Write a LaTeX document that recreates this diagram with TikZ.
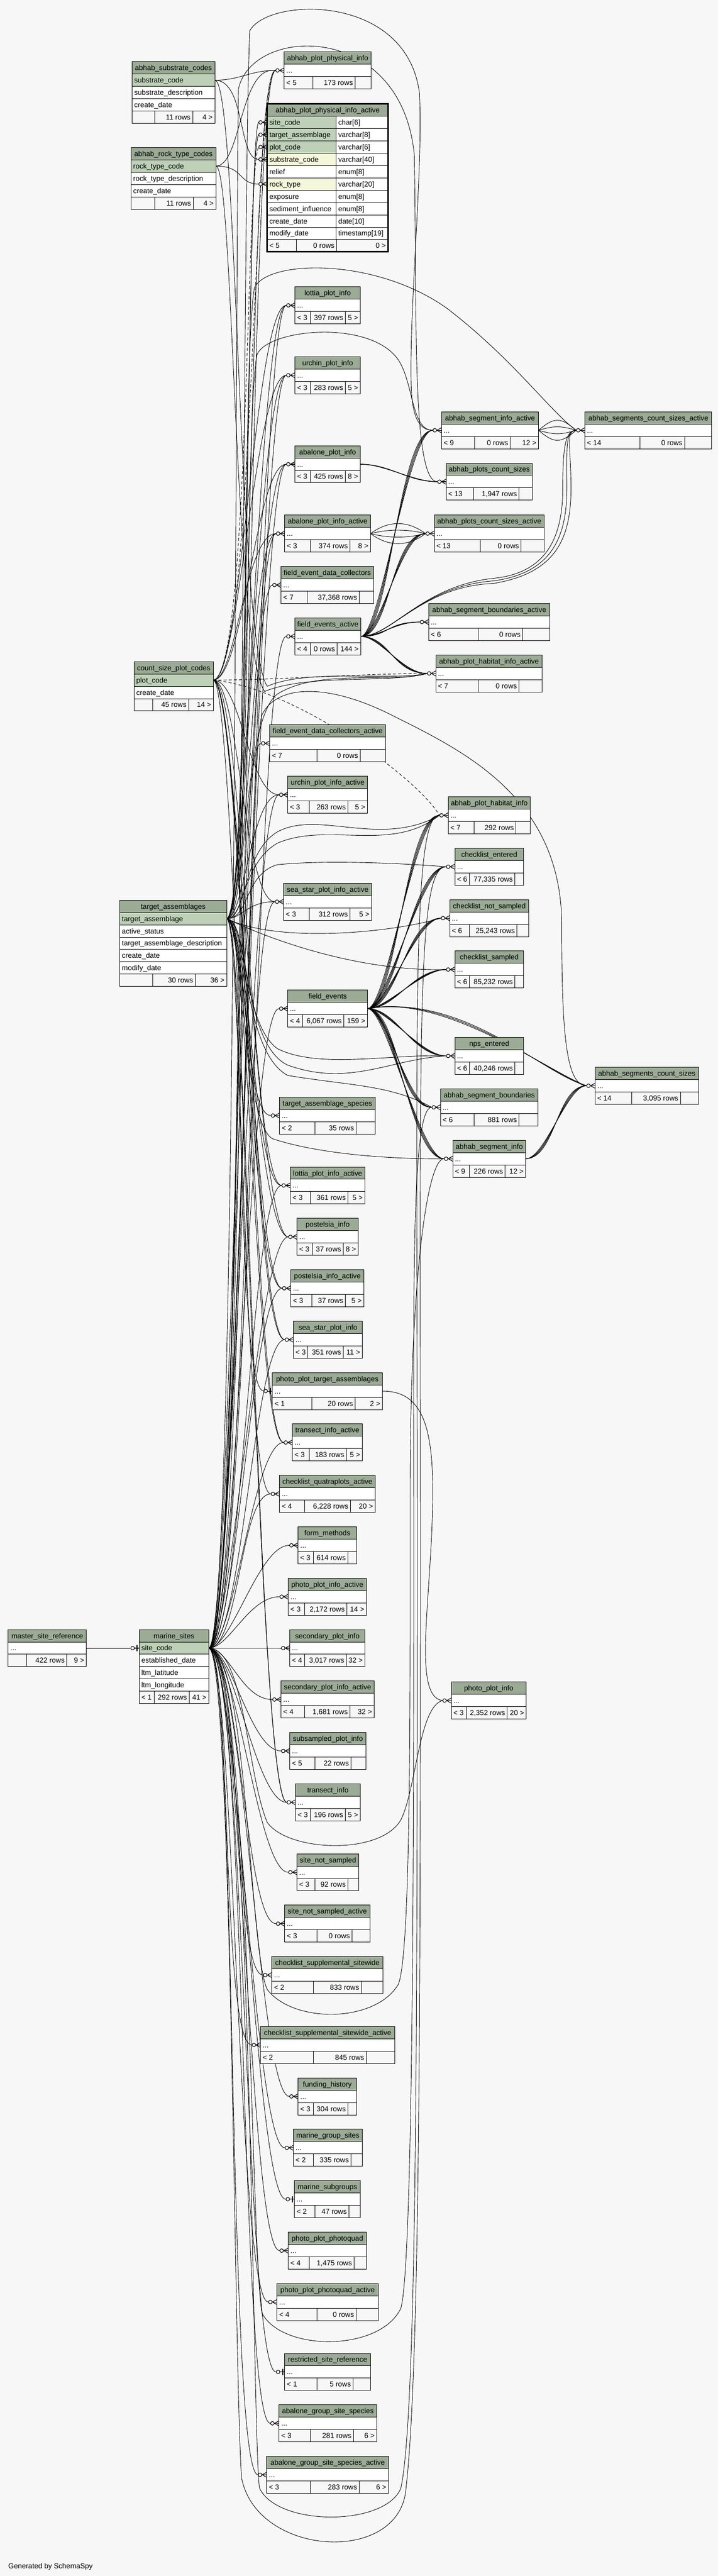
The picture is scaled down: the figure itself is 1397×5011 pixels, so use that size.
\documentclass[tikz,border=0pt]{standalone}
\usepackage{fontspec}
\setmainfont{Liberation Sans}
\usetikzlibrary{calc}
\definecolor{bgc}{HTML}{F7F7F7}
\definecolor{hdc}{HTML}{9BAB96}
\definecolor{pkc}{HTML}{BED1B8}
\definecolor{fkc}{HTML}{F4F7DA}
\pgfdeclarelayer{back}\pgfdeclarelayer{edges}\pgfsetlayers{back,edges,main}
\newcommand{\stb}[5]{%
  \xdef\tid{#1}\xdef\txl{#3}\xdef\txr{#4}\xdef\tyt{#5}%
  \filldraw[hdr] (#3,#5) rectangle (#4,#5+24);
  \node[tt,anchor=base] (#1) at ({(#3+#4)/2},#5+17) {#2};
  \filldraw[cell] (#3,#5+24) rectangle (#4,#5+48);
  \node[tt,anchor=base west] (#1-d) at (#3+4,#5+41) {...};
  \coordinate (#1-in) at (#3,#5+36);
  \coordinate (#1-e) at (#3-17,#5+36);
  \coordinate (#1-o) at (#4,#5+36);
}
\newcommand{\thd}[5]{%
  \xdef\tid{#1}\xdef\txl{#3}\xdef\txr{#4}\xdef\tyt{#5}%
  \filldraw[hdr] (#3,#5) rectangle (#4,#5+24);
  \node[tt,anchor=base] (#1) at ({(#3+#4)/2},#5+17) {#2};
}
\newcommand{\trw}[4]{%
  \filldraw[#4] (\txl,#2) rectangle (\txr,#2+24);
  \node[tt,anchor=base west] (\tid-#1) at (\txl+4,#2+17) {#3};
}
\newcommand{\trww}[5]{%
  \filldraw[#5] (\txl,#2) rectangle (654,#2+24);
  \filldraw[cell] (654,#2) rectangle (\txr,#2+24);
  \node[tt,anchor=base west] (\tid-#1) at (\txl+4,#2+17) {#3};
  \node[tt,anchor=base west] (\tid-#1t) at (658,#2+17) {#4};
  \coordinate (\tid-#1-in) at (\txl,#2+12);
  \coordinate (\tid-#1-e) at (\txl-17,#2+12);
}
\newcommand{\ftr}[6]{%
  \filldraw[ftc] (\txl,#1) rectangle (#2,#1+24);
  \filldraw[ftc] (#2,#1) rectangle (#3,#1+24);
  \filldraw[ftc] (#3,#1) rectangle (\txr,#1+24);
  \def\tmpa{#4}\ifx\tmpa\empty\else\node[tt,anchor=base west] (\tid-fl) at (\txl+4,#1+17) {#4};\fi
  \def\tmpa{#5}\ifx\tmpa\empty\else\node[tt,anchor=base east] (\tid-fm) at (#3-4,#1+17) {#5};\fi
  \def\tmpa{#6}\ifx\tmpa\empty\else\node[tt,anchor=base east] (\tid-fr) at (\txr-4,#1+17) {#6};\fi
}
\newcommand{\sft}[5]{\ftr{\tyt+48}{#1}{#2}{#3}{#4}{#5}}
\newcommand{\crw}[1]{%
  \draw[mk,fill=bgc] ($(#1)+(-13,0)$) circle[radius=3.5pt];
  \draw[mk] ($(#1)+(-9,0)$) -- ($(#1)+(0,-5)$);
  \draw[mk] ($(#1)+(-9,0)$) -- (#1);
  \draw[mk] ($(#1)+(-9,0)$) -- ($(#1)+(0,5)$);
}
\newcommand{\zoo}[1]{%
  \draw[mk,fill=bgc] ($(#1)+(-13,0)$) circle[radius=3.5pt];
  \draw[mk] ($(#1)+(-9.5,0)$) -- (#1);
  \draw[mk,line width=2pt] ($(#1)+(-4,-6)$) -- ($(#1)+(-4,6)$);
}
\newcommand{\edm}[5]{\foreach \k in {1,...,#1}{\draw[edge] (#2) .. controls +({#4+7*\k},0) and +({-#5-7*\k},0) .. (#3);}}
\begin{document}
\begin{tikzpicture}[x=1pt,y=-1pt,
  tt/.style={font=\fontsize{14}{16}\selectfont, inner sep=0pt},
  hdr/.style={fill=hdc, draw=black, line width=1pt},
  cell/.style={fill=white, draw=black, line width=1pt},
  ftc/.style={fill=bgc, draw=black, line width=1pt},
  pkcell/.style={fill=pkc, draw=black, line width=1pt},
  fkcell/.style={fill=fkc, draw=black, line width=1pt},
  edge/.style={draw=black, line width=0.9pt},
  dedge/.style={edge, dash pattern=on 6pt off 4pt},
  mk/.style={draw=black, line width=1.1pt}]
\useasboundingbox (0,0) rectangle (1397,5011);
\begin{pgfonlayer}{back}\fill[bgc] (0,0) rectangle (1397,5011);\end{pgfonlayer}

% ---------- multi-row tables ----------
\thd{sbc}{abhab\_substrate\_codes}{257}{418}{120}
\trw{r1}{144}{substrate\_code}{pkcell}
\trw{r2}{168}{substrate\_description}{cell}
\trw{r3}{192}{create\_date}{cell}
\ftr{216}{301}{375}{}{11 rows}{4 >}
\coordinate (sbc-o) at (418,156);

\thd{rtc}{abhab\_rock\_type\_codes}{255}{420}{287}
\trw{r1}{311}{rock\_type\_code}{pkcell}
\trw{r2}{335}{rock\_type\_description}{cell}
\trw{r3}{359}{create\_date}{cell}
\ftr{383}{301}{376}{}{11 rows}{4 >}
\coordinate (rtc-o) at (420,323);

\thd{appia}{abhab\_plot\_physical\_info\_active}{520}{755}{202}
\trww{site}{226}{site\_code}{char[6]}{pkcell}
\trww{ta}{250}{target\_assemblage}{varchar[8]}{pkcell}
\trww{plot}{274}{plot\_code}{varchar[6]}{pkcell}
\trww{sub}{298}{substrate\_code}{varchar[40]}{fkcell}
\trww{rel}{322}{relief}{enum[8]}{cell}
\trww{rock}{346}{rock\_type}{varchar[20]}{fkcell}
\trww{exp}{370}{exposure}{enum[8]}{cell}
\trww{sed}{394}{sediment\_influence}{enum[8]}{cell}
\trww{cd}{418}{create\_date}{date[10]}{cell}
\trww{md}{442}{modify\_date}{timestamp[19]}{cell}
\ftr{466}{577}{655}{< 5}{0 rows}{0 >}
\draw[line width=3pt] (520,202) rectangle (755,490);

\thd{cspc}{count\_size\_plot\_codes}{261}{415}{1287}
\trw{r1}{1311}{plot\_code}{pkcell}
\trw{r2}{1335}{create\_date}{cell}
\ftr{1359}{297}{367}{}{45 rows}{14 >}
\coordinate (cspc-o) at (415,1323);

\thd{ta}{target\_assemblages}{233}{441}{1751}
\trw{r1}{1775}{target\_assemblage}{pkcell}
\trw{r2}{1799}{active\_status}{cell}
\trw{r3}{1823}{target\_assemblage\_description}{cell}
\trw{r4}{1847}{create\_date}{cell}
\trw{r5}{1871}{modify\_date}{cell}
\ftr{1895}{297}{380}{}{30 rows}{36 >}
\coordinate (ta-o) at (441,1787);

\thd{ms}{marine\_sites}{271}{406}{3170}
\trw{r1}{3194}{site\_code}{pkcell}
\trw{r2}{3218}{established\_date}{cell}
\trw{r3}{3242}{ltm\_latitude}{cell}
\trw{r4}{3266}{ltm\_longitude}{cell}
\ftr{3290}{300}{368}{< 1}{292 rows}{41 >}
\coordinate (ms-o) at (406,3206);
\coordinate (ms-in) at (271,3206);
\coordinate (ms-e) at (254,3206);

% ---------- simple tables ----------
\stb{msr}{master\_site\_reference}{16}{168}{3170}\sft{52}{130}{}{422 rows}{9 >}
\stb{appi}{abhab\_plot\_physical\_info}{553}{722}{101}\sft{609}{691}{< 5}{173 rows}{}
\stb{lottia}{lottia\_plot\_info}{574}{701}{558}\sft{604}{672}{< 3}{397 rows}{5 >}
\stb{urchin}{urchin\_plot\_info}{574}{701}{694}\sft{604}{672}{< 3}{283 rows}{5 >}
\stb{abalone}{abalone\_plot\_info}{574}{701}{867}\sft{604}{672}{< 3}{425 rows}{8 >}
\stb{sia}{abhab\_segment\_info\_active}{859}{1048}{801}\sft{924}{993}{< 9}{0 rows}{12 >}
\stb{segcsa}{abhab\_segments\_count\_sizes\_active}{1138}{1385}{801}\sft{1245}{1332}{< 14}{0 rows}{}
\stb{pcs}{abhab\_plots\_count\_sizes}{868}{1036}{901}\sft{922}{1010}{< 13}{1,947 rows}{}
\stb{abpia}{abalone\_plot\_info\_active}{554}{721}{1002}\sft{604}{681}{< 3}{374 rows}{8 >}
\stb{pcsa}{abhab\_plots\_count\_sizes\_active}{845}{1059}{1002}\sft{935}{1014}{< 13}{0 rows}{}
\stb{fedc}{field\_event\_data\_collectors}{547}{727}{1102}\sft{598}{699}{< 7}{37,368 rows}{}
\stb{sba}{abhab\_segment\_boundaries\_active}{834}{1070}{1174}\sft{931}{1017}{< 6}{0 rows}{}
\stb{fea}{field\_events\_active}{574}{702}{1202}\sft{604}{656}{< 4}{0 rows}{144 >}
\stb{aphia}{abhab\_plot\_habitat\_info\_active}{848}{1055}{1274}\sft{931}{1010}{< 7}{0 rows}{}
\stb{fedca}{field\_event\_data\_collectors\_active}{525}{750}{1410}\sft{617}{701}{< 7}{0 rows}{}
\stb{urchina}{urchin\_plot\_info\_active}{560}{715}{1510}\sft{602}{677}{< 3}{263 rows}{5 >}
\stb{aphi}{abhab\_plot\_habitat\_info}{872}{1032}{1550}\sft{923}{1004}{< 7}{292 rows}{}
\stb{ce}{checklist\_entered}{885}{1019}{1650}\sft{913}{1002}{< 6}{77,335 rows}{}
\stb{ssa}{sea\_star\_plot\_info\_active}{552}{723}{1718}\sft{602}{681}{< 3}{312 rows}{5 >}
\stb{cns}{checklist\_not\_sampled}{875}{1029}{1750}\sft{913}{1006}{< 6}{25,243 rows}{}
\stb{cs}{checklist\_sampled}{885}{1019}{1850}\sft{913}{1002}{< 6}{85,232 rows}{}
\stb{fe}{field\_events}{560}{715}{1926}\sft{589}{669}{< 4}{6,067 rows}{159 >}
\stb{nps}{nps\_entered}{885}{1019}{2018}\sft{913}{1002}{< 6}{40,246 rows}{}
\stb{segcs}{abhab\_segments\_count\_sizes}{1158}{1359}{2076}\sft{1229}{1324}{< 14}{3,095 rows}{}
\stb{sb}{abhab\_segment\_boundaries}{857}{1047}{2118}\sft{923}{1010}{< 6}{881 rows}{}
\stb{tas}{target\_assemblage\_species}{544}{730}{2134}\sft{613}{693}{< 2}{35 rows}{}
\stb{si}{abhab\_segment\_info}{881}{1023}{2218}\sft{913}{983}{< 9}{226 rows}{12 >}
\stb{lottiaa}{lottia\_plot\_info\_active}{565}{710}{2270}\sft{604}{677}{< 3}{361 rows}{5 >}
\stb{pos}{postelsia\_info}{578}{697}{2370}\sft{608}{668}{< 3}{37 rows}{8 >}
\stb{posa}{postelsia\_info\_active}{566}{708}{2470}\sft{607}{672}{< 3}{37 rows}{5 >}
\stb{ss}{sea\_star\_plot\_info}{571}{705}{2570}\sft{599}{668}{< 3}{351 rows}{11 >}
\stb{ppta}{photo\_plot\_target\_assemblages}{530}{744}{2670}\sft{607}{691}{< 1}{20 rows}{2 >}
\stb{tia}{transect\_info\_active}{569}{705}{2770}\sft{602}{674}{< 3}{183 rows}{5 >}
\stb{cqa}{checklist\_quatraplots\_active}{544}{730}{2870}\sft{593}{682}{< 4}{6,228 rows}{20 >}
\stb{fm}{form\_methods}{580}{694}{2970}\sft{610}{677}{< 3}{614 rows}{}
\stb{ppiact}{photo\_plot\_info\_active}{561}{713}{3070}\sft{593}{675}{< 3}{2,172 rows}{14 >}
\stb{spi}{secondary\_plot\_info}{564}{710}{3170}\sft{593}{674}{< 4}{3,017 rows}{32 >}
\stb{spia}{secondary\_plot\_info\_active}{547}{728}{3270}\sft{593}{681}{< 4}{1,681 rows}{32 >}
\stb{ppi}{photo\_plot\_info}{878}{1024}{3272}\sft{907}{987}{< 3}{2,352 rows}{20 >}
\stb{ssp}{subsampled\_plot\_info}{564}{712}{3370}\sft{613}{683}{< 5}{22 rows}{}
\stb{ti}{transect\_info}{575}{701}{3470}\sft{604}{672}{< 3}{196 rows}{5 >}
\stb{sns}{site\_not\_sampled}{578}{698}{3606}\sft{613}{677}{< 3}{92 rows}{}
\stb{snsa}{site\_not\_sampled\_active}{554}{720}{3706}\sft{617}{685}{< 3}{0 rows}{}
\stb{css}{checklist\_supplemental\_sitewide}{529}{745}{3806}\sft{610}{703}{< 2}{833 rows}{}
\stb{cssa}{checklist\_supplemental\_sitewide\_active}{507}{768}{3942}\sft{610}{713}{< 2}{845 rows}{}
\stb{fh}{funding\_history}{580}{694}{4042}\sft{610}{677}{< 3}{304 rows}{}
\stb{mgs}{marine\_group\_sites}{571}{705}{4142}\sft{610}{683}{< 2}{335 rows}{}
\stb{msub}{marine\_subgroups}{573}{701}{4242}\sft{613}{679}{< 2}{47 rows}{}
\stb{ppq}{photo\_plot\_photoquad}{561}{713}{4342}\sft{602}{689}{< 4}{1,475 rows}{}
\stb{ppqa}{photo\_plot\_photoquad\_active}{539}{736}{4442}\sft{617}{693}{< 4}{0 rows}{}
\stb{rsr}{restricted\_site\_reference}{554}{721}{4578}\sft{617}{687}{< 1}{5 rows}{}
\stb{agss}{abalone\_group\_site\_species}{543}{733}{4678}\sft{604}{688}{< 3}{281 rows}{6 >}
\stb{agssa}{abalone\_group\_site\_species\_active}{519}{756}{4778}\sft{604}{699}{< 3}{283 rows}{6 >}

% ---------- markers ----------
\foreach \t in {appi,lottia,urchin,abalone,sia,segcsa,pcs,abpia,pcsa,fedc,sba,fea,aphia,fedca,urchina,aphi,ce,ssa,cns,cs,fe,nps,segcs,sb,tas,si,lottiaa,pos,posa,ss,tia,cqa,fm,ppiact,spi,spia,ppi,ssp,ti,sns,snsa,css,cssa,fh,mgs,ppq,ppqa,agss,agssa}{\crw{\t-in}}
\foreach \t in {appia-site-in,appia-ta-in,appia-plot-in,appia-sub-in,appia-rock-in}{\crw{\t}}
\foreach \t in {ms-in,msub-in,rsr-in,ppta-in}{\zoo{\t}}

% ---------- connectors ----------
\begin{pgfonlayer}{edges}
% marine_sites bundle
\foreach \c/\v in {appi-e/75,lottia-e/65,urchin-e/60,abalone-e/55,abpia-e/50,fedc-e/45,fea-e/80,fedca-e/60,urchina-e/50,ssa-e/70,fe-e/55,lottiaa-e/65,pos-e/45,posa-e/55,ss-e/65,tia-e/50,cqa-e/60,fm-e/45,ppiact-e/40,spi-e/40,spia-e/40,ssp-e/45,ti-e/50,sns-e/55,snsa-e/60,css-e/65,cssa-e/45,fh-e/70,mgs-e/55,msub-e/60,ppq-e/65,ppqa-e/50,rsr-e/70,agss-e/75,agssa-e/55}
  {\draw[edge] (ms-o) .. controls +(\v,0) and +(-60,0) .. (\c);}
\draw[edge] (ms-o) .. controls +(70,0) and +(-30,40) .. (appia-site-e);
% target_assemblages bundle
\foreach \c/\v in {appi-e/50,lottia-e/40,urchin-e/35,abalone-e/45,abpia-e/40,urchina-e/35,ssa-e/30,tas-e/40,lottiaa-e/45,pos-e/35,posa-e/40,ss-e/50,ppta-e/35,tia-e/45,ti-e/40,cqa-e/30}
  {\draw[edge] (ta-o) .. controls +(\v,0) and +(-55,0) .. (\c);}
\draw[edge] (ta-o) .. controls +(45,0) and +(-25,50) .. (appia-ta-e);
% count_size_plot_codes
\foreach \c/\v in {lottia-e/55,urchin-e/50,abalone-e/60,abpia-e/45,urchina-e/55,ssa-e/50,lottiaa-e/60,pos-e/45,posa-e/50,ss-e/55,tia-e/60,ti-e/50}
  {\draw[edge] (cspc-o) .. controls +(\v,0) and +(-60,0) .. (\c);}
\draw[dedge] (cspc-o) .. controls +(70,-10) and +(-25,60) .. (appia-plot-e);
\draw[dedge] (cspc-o) .. controls +(80,-10) and +(-45,25) .. (appi-e);
\draw[dedge] (cspc-o) .. controls +(120,0) and +(-120,0) .. (aphia-e);
\draw[dedge] (cspc-o) .. controls +(160,15) and +(-40,-70) .. (aphi-e);
% code tables
\draw[edge] (sbc-o) .. controls +(50,0) and +(-50,0) .. (appi-e);
\draw[edge] (sbc-o) .. controls +(60,0) and +(-40,0) .. (appia-sub-e);
\draw[edge] (rtc-o) .. controls +(50,0) and +(-70,-10) .. (appi-e);
\draw[edge] (rtc-o) .. controls +(55,0) and +(-40,0) .. (appia-rock-e);
\draw[edge] (sbc-o) .. controls +(45,0) and (462,1250) .. (520,1335) .. controls (600,1300) and (760,1325) .. (aphia-e);
\draw[edge] (rtc-o) .. controls +(35,0) and (455,1260) .. (515,1345) .. controls (600,1310) and (760,1330) .. (aphia-e);
% target_assemblages to right column
\draw[edge] (ta-o) .. controls +(45,0) and (475,1700) .. (540,1682) .. controls (640,1672) and (790,1680) .. (ce-e);
\draw[edge] (ta-o) .. controls (540,1835) and (760,1815) .. (cns-e);
\draw[edge] (ta-o) .. controls (530,1830) and (700,1890) .. (cs-e);
\draw[edge] (ta-o) .. controls +(40,0) and (470,1660) .. (540,1618) .. controls (620,1575) and (740,1650) .. (aphi-e);
\draw[edge] (ta-o) .. controls +(35,0) and (470,1680) .. (540,1640) .. controls (640,1598) and (760,1660) .. (aphi-e);
\draw[edge] (ta-o) .. controls +(40,0) and (470,1990) .. (540,2040) .. controls (620,2080) and (760,2050) .. (nps-e);
\draw[edge] (ta-o) .. controls +(45,0) and (470,2030) .. (560,2072) .. controls (680,2115) and (760,2060) .. (nps-e);
\draw[edge] (ta-o) .. controls +(40,0) and (470,2045) .. (560,2092) .. controls (680,2112) and (760,2110) .. (sb-e);
\draw[edge] (ta-o) .. controls +(35,0) and (470,2180) .. (530,2215) .. controls (620,2245) and (760,2255) .. (si-e);
\draw[edge] (ta-o) .. controls +(40,0) and (470,1400) .. (540,1350) .. controls (620,1300) and (760,1330) .. (aphia-e);
\draw[edge] (ta-o) .. controls +(50,0) and (475,820) .. (500,690) .. controls (520,640) and (720,620) .. (775,700) .. controls (805,745) and (800,837) .. (sia-e);
\draw[edge] (ta-o) .. controls +(45,0) and (470,700) .. (495,560) .. controls (520,505) and (730,500) .. (870,600) .. controls (1000,700) and (1070,800) .. (segcsa-e);
% marine_sites long routes
\draw[edge] (ms-o) .. controls +(70,0) and (470,400) .. (486,60) .. controls (520,-5) and (790,-15) .. (816,180) .. controls (824,320) and (796,600) .. (800,750) .. controls (802,820) and (820,837) .. (sia-e);
\draw[edge] (ms-o) .. controls +(55,0) and (458,500) .. (464,173) .. controls (490,50) and (780,40) .. (806,300) .. controls (812,600) and (800,937) .. (pcs-e);
\draw[edge] (ms-o) .. controls +(65,0) and (475,1500) .. (510,1390) .. controls (540,1330) and (640,1330) .. (760,1390) .. controls (900,1460) and (1093,1550) .. (1093,1800) .. controls (1093,2000) and (1100,2112) .. (segcs-e);
\draw[edge] (ms-o) .. controls +(70,0) and (480,3450) .. (520,3545) .. controls (560,3602) and (740,3610) .. (780,3540) .. controls (810,3480) and (815,3320) .. (ppi-e);
\draw[edge] (ms-o) .. controls +(75,0) and (485,3800) .. (520,3870) .. controls (570,3936) and (730,3936) .. (775,3860) .. controls (800,3800) and (798,3300) .. (798,2900) .. controls (798,2500) and (830,2254) .. (si-e);
\draw[edge] (ms-o) .. controls +(80,0) and (488,4400) .. (510,4500) .. controls (550,4575) and (740,4575) .. (780,4490) .. controls (805,4400) and (805,3500) .. (805,3000) .. controls (805,2500) and (800,2154) .. (sb-e);
\draw[edge] (ms-o) .. controls +(85,0) and (490,4750) .. (505,4840) .. controls (540,4915) and (750,4915) .. (780,4840) .. controls (810,4700) and (812,4000) .. (812,3000) .. controls (812,2000) and (800,1586) .. (aphi-e);
\draw[edge] (ms-o) .. controls +(45,0) and (455,4600) .. (470,4820) .. controls (500,4975) and (780,4990) .. (790,4840) .. controls (818,4600) and (818,3800) .. (818,3000) .. controls (818,2000) and (810,1686) .. (ce-e);
% field_events
\edm{4}{fe-o}{ce-e}{30}{40}
\edm{4}{fe-o}{cns-e}{30}{40}
\edm{4}{fe-o}{cs-e}{30}{40}
\edm{4}{fe-o}{aphi-e}{30}{40}
\edm{4}{fe-o}{nps-e}{30}{40}
\edm{4}{fe-o}{sb-e}{30}{40}
\edm{4}{fe-o}{si-e}{30}{40}
\foreach \k in {0,1,2}{\draw[edge] (fe-o) .. controls +({150+20*\k},-30) and +({-70-10*\k},-25) .. (segcs-e);}
% field_events_active
\edm{4}{fea-o}{sba-e}{30}{40}
\edm{4}{fea-o}{aphia-e}{30}{40}
\edm{4}{fea-o}{pcsa-e}{30}{40}
\edm{4}{fea-o}{sia-e}{30}{40}
\foreach \k in {0,1,2}{\draw[edge] (fea-o) .. controls +(60,0) and (820,1140) .. (960,{1125+5*\k}) .. controls ({1060+10*\k},1115) and ({1095+8*\k},1050) .. ({1095+8*\k},950) .. controls ({1095+8*\k},870) and (1100,837) .. (segcsa-e);}
% plot / segment tables
\edm{3}{abalone-o}{pcs-e}{40}{40}
\foreach \dy in {-26,-9,9,26}{\draw[edge] (abpia-o) .. controls +(35,\dy) and +(-35,\dy) .. (pcsa-e);}
\foreach \dy in {-26,-9,9,26}{\draw[edge] (sia-o) .. controls +(30,\dy) and +(-30,\dy) .. (segcsa-e);}
\edm{4}{si-o}{segcs-e}{30}{30}
\draw[edge] (ppta-o) .. controls +(70,0) and (842,2760) .. (842,2900) .. controls (842,3100) and (800,3300) .. (ppi-e);
\draw[edge] (msr-o) -- (ms-e);
\end{pgfonlayer}

\node[tt,anchor=base west] (gen) at (16,4996) {Generated by SchemaSpy};
\end{tikzpicture}
\end{document}
